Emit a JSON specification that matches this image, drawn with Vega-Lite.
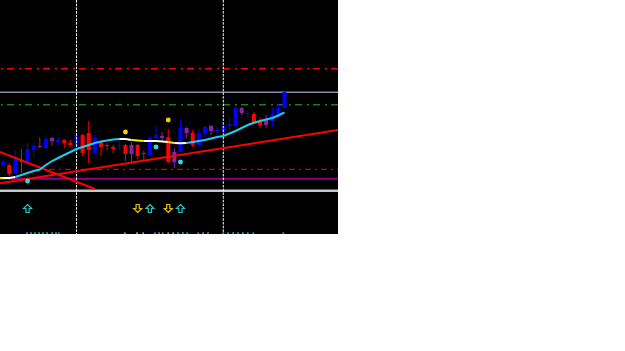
{
  "$schema": "https://vega.github.io/schema/vega-lite/v6.json",
  "width": 338,
  "height": 234,
  "padding": 0,
  "autosize": {"type": "none"},
  "background": "#ffffff",
  "config": {
    "view": {"stroke": null, "fill": "#000000"},
    "axis": {"disable": true},
    "legend": {"disable": true},
    "scale": {"continuousPadding": 0}
  },
  "resolve": {"scale": {"color": "independent"}},
  "datasets": {
    "candles": [
      {"i":0,"o":69,"c":72,"h":74,"l":68,"kind":"bull"},
      {"i":1,"o":69,"c":60,"h":71,"l":58,"kind":"bear"},
      {"i":2,"o":61,"c":77,"h":84,"l":60,"kind":"bull"},
      {"i":3,"o":74,"c":72,"h":85,"l":61,"kind":"neutral"},
      {"i":4,"o":70,"c":85,"h":91,"l":69,"kind":"bull"},
      {"i":5,"o":85,"c":88,"h":91,"l":77,"kind":"bull"},
      {"i":6,"o":88,"c":87,"h":97,"l":86,"kind":"neutral"},
      {"i":7,"o":86,"c":95,"h":98,"l":85,"kind":"bull"},
      {"i":8,"o":96,"c":93,"h":97,"l":88,"kind":"neutral"},
      {"i":9,"o":92,"c":94,"h":97,"l":88,"kind":"bull"},
      {"i":10,"o":94,"c":91,"h":95,"l":86,"kind":"bear"},
      {"i":11,"o":91,"c":89,"h":94,"l":87,"kind":"bear"},
      {"i":12,"o":88,"c":99,"h":100,"l":87,"kind":"bull"},
      {"i":13,"o":99,"c":81,"h":100,"l":78,"kind":"bear"},
      {"i":14,"o":101,"c":84,"h":113,"l":71,"kind":"bear"},
      {"i":15,"o":81,"c":96,"h":99,"l":80,"kind":"bull"},
      {"i":16,"o":92,"c":87,"h":93,"l":78,"kind":"bear"},
      {"i":17,"o":89,"c":88,"h":91,"l":84,"kind":"bear"},
      {"i":18,"o":87,"c":85,"h":89,"l":81,"kind":"bear"},
      {"i":19,"o":88,"c":89,"h":94,"l":84,"kind":"bull"},
      {"i":20,"o":89,"c":80,"h":90,"l":73,"kind":"bear"},
      {"i":21,"o":89,"c":80,"h":92,"l":72,"kind":"neutral"},
      {"i":22,"o":89,"c":78,"h":90,"l":75,"kind":"bear"},
      {"i":23,"o":81,"c":80,"h":83,"l":74,"kind":"bear"},
      {"i":24,"o":79,"c":96,"h":98,"l":79,"kind":"bull"},
      {"i":25,"o":96,"c":99,"h":109,"l":95,"kind":"bull"},
      {"i":26,"o":98,"c":96,"h":102,"l":93,"kind":"neutral"},
      {"i":27,"o":97,"c":72,"h":105,"l":71,"kind":"bear"},
      {"i":28,"o":72,"c":82,"h":86,"l":66,"kind":"neutral"},
      {"i":29,"o":82,"c":106,"h":114,"l":82,"kind":"bull"},
      {"i":30,"o":106,"c":101,"h":107,"l":96,"kind":"neutral"},
      {"i":31,"o":101,"c":89,"h":104,"l":87,"kind":"bear"},
      {"i":32,"o":89,"c":101,"h":105,"l":86,"kind":"bull"},
      {"i":33,"o":101,"c":107,"h":109,"l":97,"kind":"bull"},
      {"i":34,"o":108,"c":103,"h":109,"l":99,"kind":"neutral"},
      {"i":35,"o":102,"c":104,"h":107,"l":99,"kind":"bull"},
      {"i":36,"o":103,"c":108,"h":110,"l":101,"kind":"bull"},
      {"i":37,"o":108,"c":110,"h":116,"l":102,"kind":"bull"},
      {"i":38,"o":108,"c":126,"h":129,"l":107,"kind":"bull"},
      {"i":39,"o":126,"c":121,"h":127,"l":119,"kind":"neutral"},
      {"i":40,"o":120,"c":121,"h":123,"l":116,"kind":"bull"},
      {"i":41,"o":120,"c":112,"h":122,"l":110,"kind":"bear"},
      {"i":42,"o":113,"c":109,"h":116,"l":106,"kind":"bear"},
      {"i":43,"o":114,"c":109,"h":119,"l":106,"kind":"neutral"},
      {"i":44,"o":113,"c":120,"h":126,"l":107,"kind":"bull"},
      {"i":45,"o":119,"c":126,"h":131,"l":116,"kind":"bull"},
      {"i":46,"o":126,"c":142,"h":142,"l":126,"kind":"bull"}
    ],
    "ma": [
      {"seg":1,"state":"down","i":-0.5,"v":56},
      {"seg":1,"state":"down","i":0,"v":56},
      {"seg":2,"state":"flat","i":0,"v":56},
      {"seg":2,"state":"flat","i":1,"v":56},
      {"seg":2,"state":"flat","i":2,"v":57},
      {"seg":3,"state":"up","i":2,"v":57},
      {"seg":3,"state":"up","i":3,"v":59},
      {"seg":3,"state":"up","i":4,"v":61},
      {"seg":3,"state":"up","i":5,"v":63},
      {"seg":3,"state":"up","i":6,"v":64.5},
      {"seg":3,"state":"up","i":7,"v":69},
      {"seg":3,"state":"up","i":8,"v":73},
      {"seg":3,"state":"up","i":9,"v":76},
      {"seg":3,"state":"up","i":10,"v":79},
      {"seg":3,"state":"up","i":11,"v":82},
      {"seg":3,"state":"up","i":12,"v":85},
      {"seg":3,"state":"up","i":13,"v":87},
      {"seg":3,"state":"up","i":14,"v":89},
      {"seg":3,"state":"up","i":15,"v":91},
      {"seg":3,"state":"up","i":16,"v":92.5},
      {"seg":3,"state":"up","i":17,"v":93.5},
      {"seg":3,"state":"up","i":18,"v":94.5},
      {"seg":3,"state":"up","i":19,"v":95},
      {"seg":4,"state":"flat","i":19,"v":95},
      {"seg":4,"state":"flat","i":20,"v":95},
      {"seg":4,"state":"flat","i":21,"v":94},
      {"seg":5,"state":"down","i":21,"v":94},
      {"seg":5,"state":"down","i":22,"v":93.5},
      {"seg":5,"state":"down","i":23,"v":93},
      {"seg":6,"state":"flat","i":23,"v":93},
      {"seg":6,"state":"flat","i":24,"v":93},
      {"seg":6,"state":"flat","i":25,"v":93},
      {"seg":6,"state":"flat","i":26,"v":92.5},
      {"seg":6,"state":"flat","i":27,"v":92},
      {"seg":7,"state":"down","i":27,"v":92},
      {"seg":7,"state":"down","i":28,"v":91},
      {"seg":8,"state":"flat","i":28,"v":91},
      {"seg":8,"state":"flat","i":29,"v":90.7},
      {"seg":8,"state":"flat","i":30,"v":91},
      {"seg":9,"state":"up","i":30,"v":91},
      {"seg":9,"state":"up","i":31,"v":92},
      {"seg":9,"state":"up","i":32,"v":93},
      {"seg":9,"state":"up","i":33,"v":94},
      {"seg":9,"state":"up","i":34,"v":95.5},
      {"seg":9,"state":"up","i":35,"v":97},
      {"seg":9,"state":"up","i":36,"v":98},
      {"seg":9,"state":"up","i":37,"v":100.5},
      {"seg":9,"state":"up","i":38,"v":103},
      {"seg":9,"state":"up","i":39,"v":106},
      {"seg":9,"state":"up","i":40,"v":109},
      {"seg":9,"state":"up","i":41,"v":111.3},
      {"seg":9,"state":"up","i":42,"v":113},
      {"seg":9,"state":"up","i":43,"v":114.5},
      {"seg":9,"state":"up","i":44,"v":116},
      {"seg":9,"state":"up","i":45,"v":118.5},
      {"seg":9,"state":"up","i":46,"v":121.7}
    ]
  },
  "layer": [
    {
      "data": {"values": [{"v": 165.3}]},
      "mark": {"type": "rule", "color": "#ff0000", "strokeWidth": 1.6, "strokeDash": [7, 4, 2, 5]},
      "encoding": {"y": {"field": "v", "type": "quantitative", "scale": {"domain": [0, 234], "nice": false, "zero": false, "padding": 0}}}
    },
    {
      "data": {"values": [{"v": 141.7}]},
      "mark": {"type": "rule", "color": "#7f8fa6", "strokeWidth": 1.4},
      "encoding": {"y": {"field": "v", "type": "quantitative", "scale": {"domain": [0, 234], "nice": false, "zero": false, "padding": 0}}}
    },
    {
      "data": {"values": [{"v": 129.3}]},
      "mark": {"type": "rule", "color": "#1f7f1f", "strokeWidth": 1.6, "strokeDash": [7, 4, 2, 5]},
      "encoding": {"y": {"field": "v", "type": "quantitative", "scale": {"domain": [0, 234], "nice": false, "zero": false, "padding": 0}}}
    },
    {
      "data": {"values": [{"v": 64.7, "i": 7.5, "i2": 54.75}]},
      "mark": {"type": "rule", "color": "#cc0000", "strokeWidth": 1.2, "strokeDash": [6, 4, 2, 4]},
      "encoding": {
        "x": {"field": "i", "type": "quantitative", "scale": {"domain": [-0.507, 54.75], "nice": false, "zero": false, "padding": 0}},
        "x2": {"field": "i2"},
        "y": {"field": "v", "type": "quantitative", "scale": {"domain": [0, 234], "nice": false, "zero": false, "padding": 0}}
      }
    },
    {
      "data": {"values": [{"v": 55.3}]},
      "mark": {"type": "rule", "color": "#8b008b", "strokeWidth": 2},
      "encoding": {"y": {"field": "v", "type": "quantitative", "scale": {"domain": [0, 234], "nice": false, "zero": false, "padding": 0}}}
    },
    {
      "data": {"values": [{"v": 43.3}]},
      "mark": {"type": "rule", "color": "#c8c8c8", "strokeWidth": 2.4},
      "encoding": {"y": {"field": "v", "type": "quantitative", "scale": {"domain": [0, 234], "nice": false, "zero": false, "padding": 0}}}
    },
    {
      "data": {"name": "candles"},
      "mark": {"type": "rule", "strokeWidth": 1},
      "encoding": {
        "x": {"field": "i", "type": "quantitative", "scale": {"domain": [-0.507, 54.75], "nice": false, "zero": false, "padding": 0}},
        "y": {"field": "l", "type": "quantitative", "scale": {"domain": [0, 234], "nice": false, "zero": false, "padding": 0}},
        "y2": {"field": "h"},
        "color": {"field": "kind", "type": "nominal", "scale": {"domain": ["bull", "bear", "neutral"], "range": ["#0000ff", "#ff0000", "#8b22a8"]}}
      }
    },
    {
      "data": {"name": "candles"},
      "mark": {"type": "bar", "size": 4},
      "encoding": {
        "x": {"field": "i", "type": "quantitative", "scale": {"domain": [-0.507, 54.75], "nice": false, "zero": false, "padding": 0}},
        "y": {"field": "o", "type": "quantitative", "scale": {"domain": [0, 234], "nice": false, "zero": false, "padding": 0}},
        "y2": {"field": "c"},
        "color": {"field": "kind", "type": "nominal", "scale": {"domain": ["bull", "bear", "neutral"], "range": ["#0000ff", "#ff0000", "#8b22a8"]}}
      }
    },
    {
      "data": {"values": [{"i": 12}, {"i": 36}]},
      "mark": {"type": "rule", "color": "#ffffff", "strokeWidth": 1, "strokeDash": [2.5, 1.2]},
      "encoding": {"x": {"field": "i", "type": "quantitative", "scale": {"domain": [-0.507, 54.75], "nice": false, "zero": false, "padding": 0}}}
    },
    {
      "data": {"values": [
        {"id": "down", "i": -0.507, "v": 82},
        {"id": "down", "i": 15.02, "v": 45},
        {"id": "up", "i": -0.507, "v": 50.8},
        {"id": "up", "i": 54.75, "v": 104}
      ]},
      "mark": {"type": "line", "color": "#ff0000", "strokeWidth": 2},
      "encoding": {
        "x": {"field": "i", "type": "quantitative", "scale": {"domain": [-0.507, 54.75], "nice": false, "zero": false, "padding": 0}},
        "y": {"field": "v", "type": "quantitative", "scale": {"domain": [0, 234], "nice": false, "zero": false, "padding": 0}},
        "detail": {"field": "id"}
      }
    },
    {
      "data": {"name": "ma"},
      "mark": {"type": "line", "strokeWidth": 2},
      "encoding": {
        "x": {"field": "i", "type": "quantitative", "scale": {"domain": [-0.507, 54.75], "nice": false, "zero": false, "padding": 0}},
        "y": {"field": "v", "type": "quantitative", "scale": {"domain": [0, 234], "nice": false, "zero": false, "padding": 0}},
        "detail": {"field": "seg"},
        "color": {"field": "state", "type": "nominal", "scale": {"domain": ["up", "flat", "down"], "range": ["#22ccee", "#ffffff", "#f0f000"]}}
      }
    },
    {
      "data": {"values": [
        {"i": 20, "v": 102, "type": "sell"},
        {"i": 27, "v": 114, "type": "sell"},
        {"i": 25, "v": 87, "type": "buy"},
        {"i": 29, "v": 72, "type": "buy"},
        {"i": 4, "v": 53, "type": "buy"}
      ]},
      "mark": {"type": "circle", "size": 24, "opacity": 1},
      "encoding": {
        "x": {"field": "i", "type": "quantitative", "scale": {"domain": [-0.507, 54.75], "nice": false, "zero": false, "padding": 0}},
        "y": {"field": "v", "type": "quantitative", "scale": {"domain": [0, 234], "nice": false, "zero": false, "padding": 0}},
        "color": {"field": "type", "type": "nominal", "scale": {"domain": ["sell", "buy"], "range": ["#f5d000", "#22e0e8"]}}
      }
    },
    {
      "data": {"values": [{"i": 4, "v": 25.5}, {"i": 24, "v": 25.5}, {"i": 29, "v": 25.5}]},
      "mark": {"type": "point", "filled": false, "stroke": "#20c8c8", "strokeWidth": 1.2, "size": 64, "opacity": 1, "shape": "M0,-1 L1,0 L0.4,0 L0.4,1 L-0.4,1 L-0.4,0 L-1,0 Z"},
      "encoding": {
        "x": {"field": "i", "type": "quantitative", "scale": {"domain": [-0.507, 54.75], "nice": false, "zero": false, "padding": 0}},
        "y": {"field": "v", "type": "quantitative", "scale": {"domain": [0, 234], "nice": false, "zero": false, "padding": 0}}
      }
    },
    {
      "data": {"values": [{"i": 22, "v": 25.5}, {"i": 27, "v": 25.5}]},
      "mark": {"type": "point", "filled": false, "stroke": "#e8c000", "strokeWidth": 1.2, "size": 64, "opacity": 1, "shape": "M0,1 L1,0 L0.4,0 L0.4,-1 L-0.4,-1 L-0.4,0 L-1,0 Z"},
      "encoding": {
        "x": {"field": "i", "type": "quantitative", "scale": {"domain": [-0.507, 54.75], "nice": false, "zero": false, "padding": 0}},
        "y": {"field": "v", "type": "quantitative", "scale": {"domain": [0, 234], "nice": false, "zero": false, "padding": 0}}
      }
    },
    {
      "data": {"values": [
        {"i": 3.9, "s": "buy"}, {"i": 4.56, "s": "buy"}, {"i": 5.2, "s": "buy"}, {"i": 5.87, "s": "buy"}, {"i": 6.52, "s": "buy"}, {"i": 7.18, "s": "buy"}, {"i": 8.0, "s": "buy"}, {"i": 8.65, "s": "buy"}, {"i": 9.1, "s": "buy"},
        {"i": 19.9, "s": "sell"}, {"i": 21.9, "s": "sell"}, {"i": 22.9, "s": "sell"},
        {"i": 24.8, "s": "buy"}, {"i": 25.5, "s": "buy"}, {"i": 26.1, "s": "buy"},
        {"i": 27.0, "s": "sell"}, {"i": 27.8, "s": "sell"},
        {"i": 28.6, "s": "buy"}, {"i": 29.4, "s": "buy"}, {"i": 30.1, "s": "buy"},
        {"i": 31.9, "s": "buy"}, {"i": 32.7, "s": "buy"}, {"i": 33.5, "s": "buy"},
        {"i": 36.0, "s": "buy"}, {"i": 36.8, "s": "buy"}, {"i": 37.6, "s": "buy"}, {"i": 38.4, "s": "buy"}, {"i": 39.2, "s": "buy"}, {"i": 40.0, "s": "buy"}, {"i": 40.9, "s": "buy"},
        {"i": 45.8, "s": "buy"}
      ]},
      "mark": {"type": "square", "size": 3, "opacity": 1, "clip": true},
      "encoding": {
        "x": {"field": "i", "type": "quantitative", "scale": {"domain": [-0.507, 54.75], "nice": false, "zero": false, "padding": 0}},
        "y": {"datum": 0.8, "type": "quantitative", "scale": {"domain": [0, 234], "nice": false, "zero": false, "padding": 0}},
        "color": {"field": "s", "type": "nominal", "scale": {"domain": ["sell", "buy"], "range": ["#c8a800", "#20a8b8"]}}
      }
    }
  ]
}
